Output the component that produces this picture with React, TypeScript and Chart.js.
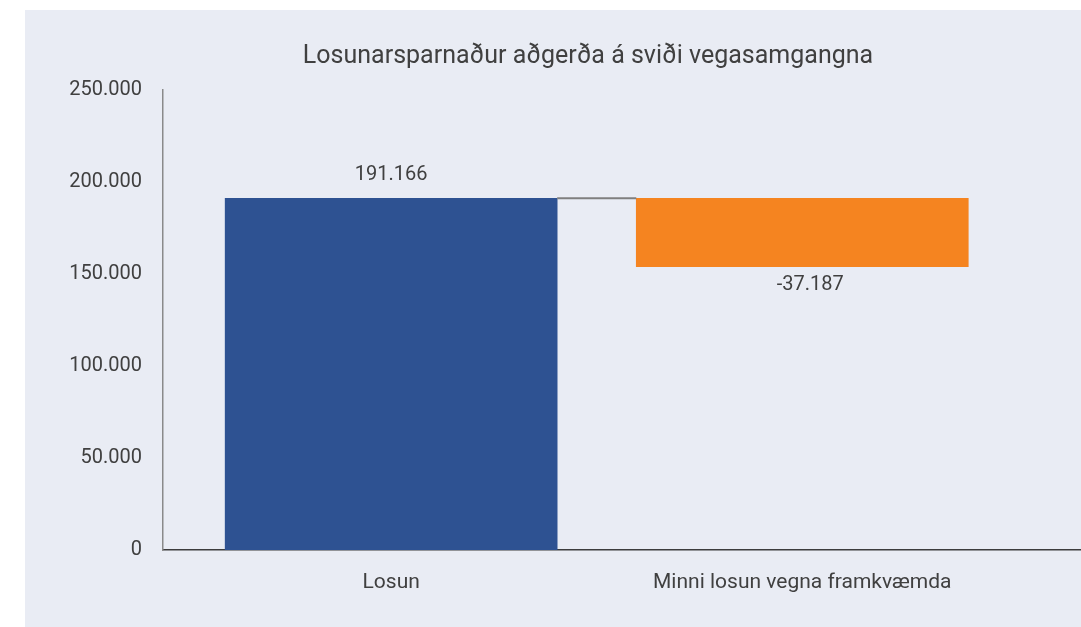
import React, { useEffect, useRef } from "react";
import { Chart, registerables } from "chart.js";

Chart.register(...registerables);

const categories: string[] = ["Losun", "Minni losun vegna framkvæmda"];
const changes: number[] = [191166, -37187];
const yTicks: number[] = [0, 50000, 100000, 150000, 200000, 250000];
const titleText = "Losunarsparnaður aðgerða á sviði vegasamgangna";

const BLUE = "#2e5292";
const ORANGE = "#f58420";
const TEXT = "#404040";
const FONT = "Roboto, 'Noto Sans', sans-serif";

const fmt = (v: number) => {
  const s = Math.abs(Math.round(v)).toString().replace(/\B(?=(\d{3})+(?!\d))/g, ".");
  return (v < 0 ? "-" : "") + s;
};

export default function App() {
  const ref = useRef<HTMLCanvasElement | null>(null);

  useEffect(() => {
    if (!ref.current) return;
    let running = 0;
    const ranges: [number, number][] = [];
    const points: { x: number; y: [number, number] }[] = [];
    changes.forEach((c, i) => {
      const start = running;
      const end = running + c;
      const r: [number, number] = [Math.min(start, end), Math.max(start, end)];
      ranges.push(r);
      points.push({ x: i, y: r });
      running = end;
    });

    const extras = {
      id: "extras",
      beforeDraw(chart: any) {
        const ctx = chart.ctx;
        ctx.save();
        ctx.fillStyle = TEXT;
        ctx.font = `25px ${FONT}`;
        ctx.textAlign = "center";
        ctx.textBaseline = "middle";
        ctx.fillText(titleText, 563, 47);
        ctx.restore();
      },
      afterDatasetsDraw(chart: any) {
        const ctx = chart.ctx;
        const meta = chart.getDatasetMeta(0);
        const y = chart.scales.y;
        ctx.save();
        let total = 0;
        for (let i = 0; i < meta.data.length - 1; i++) {
          total += changes[i];
          const a = meta.data[i];
          const b = meta.data[i + 1];
          const py = y.getPixelForValue(total);
          ctx.strokeStyle = "#7f7f7f";
          ctx.lineWidth = 2;
          ctx.beginPath();
          ctx.moveTo(a.x + a.width / 2, py);
          ctx.lineTo(b.x - b.width / 2, py);
          ctx.stroke();
        }
        ctx.fillStyle = TEXT;
        ctx.font = `20px ${FONT}`;
        ctx.textAlign = "center";
        ctx.textBaseline = "middle";
        meta.data.forEach((el: any, i: number) => {
          const c = changes[i];
          if (c >= 0) {
            const top = y.getPixelForValue(ranges[i][1]);
            ctx.fillText(fmt(c), el.x, top - 23);
          } else {
            const bottom = y.getPixelForValue(ranges[i][0]);
            ctx.fillText(fmt(c), el.x + 8, bottom + 18);
          }
        });
        ctx.restore();
      },
    };

    const chart = new Chart(ref.current, {
      type: "bar",
      data: {
        datasets: [
          {
            data: points as any,
            backgroundColor: changes.map((c) => (c >= 0 ? BLUE : ORANGE)),
            borderWidth: 0,
            barThickness: 332,
          },
        ],
      },
      options: {
        animation: false,
        responsive: false,
        maintainAspectRatio: false,
        layout: { padding: { left: 0, right: 0, top: 80, bottom: 0 } },
        plugins: {
          legend: { display: false },
          tooltip: { enabled: false },
          title: { display: false },
        },
        scales: {
          x: {
            type: "linear",
            offset: false,
            min: -0.555,
            max: 1.678,
            grid: { display: false, drawTicks: false, offset: false },
            border: { display: true, color: "#3c3c3c", width: 1.5 },
            afterBuildTicks: (scale: any) => {
              scale.ticks = categories.map((_, i) => ({ value: i }));
            },
            afterFit: (scale: any) => {
              scale.height = 77;
            },
            ticks: {
              padding: 20,
              color: TEXT,
              font: { family: FONT, size: 21 },
              maxRotation: 0,
              autoSkip: false,
              callback: (v: any) => categories[Math.round(Number(v))] ?? "",
            },
          },
          y: {
            min: 0,
            max: 250000,
            grid: { display: false, drawTicks: false },
            border: { display: true, color: "#8a8a8a", width: 1.5 },
            afterBuildTicks: (scale: any) => {
              scale.ticks = yTicks.map((v) => ({ value: v }));
            },
            afterFit: (scale: any) => {
              scale.width = 138;
            },
            ticks: {
              padding: 21,
              color: TEXT,
              font: { family: FONT, size: 20 },
              callback: (v: any) => fmt(Number(v)),
            },
          },
        },
      },
      plugins: [extras],
    });
    return () => chart.destroy();
  }, []);

  return (
    <div style={{ position: "fixed", left: 0, top: 0, width: 1081, height: 627, background: "#ffffff" }}>
      <div style={{ position: "absolute", left: 25, top: 10, width: 1056, height: 617, background: "#e9ecf4" }}>
        <canvas ref={ref} width={1056} height={617} style={{ display: "block", width: 1056, height: 617 }} />
      </div>
    </div>
  );
}
